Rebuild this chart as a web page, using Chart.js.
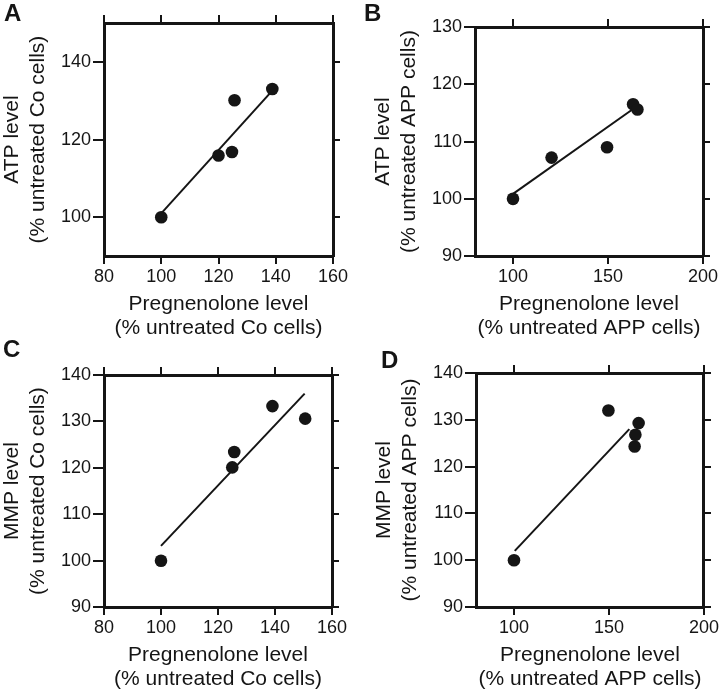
<!DOCTYPE html>
<html>
<head>
<meta charset="utf-8">
<script src="https://cdn.jsdelivr.net/npm/chart.js@4"></script>
<style>
  body { margin: 0; background: #fff; width: 721px; height: 693px; position: relative; overflow: hidden; }
  canvas { position: absolute; }
  .tag { position: absolute; font-family: 'Liberation Sans', Arial, sans-serif; font-weight: bold; font-size: 24px; line-height: 1; color: #151515; }
</style>
</head>
<body>
<canvas id="chartA" width="360" height="345" style="left:0;top:0"></canvas>
<canvas id="chartB" width="361" height="345" style="left:360px;top:0"></canvas>
<canvas id="chartC" width="360" height="348" style="left:0;top:345px"></canvas>
<canvas id="chartD" width="361" height="348" style="left:360px;top:345px"></canvas>
<div class="tag" style="left:4px;top:1px">A</div>
<div class="tag" style="left:364px;top:1px">B</div>
<div class="tag" style="left:3px;top:337px">C</div>
<div class="tag" style="left:381px;top:348px">D</div>
<script>
const ink = '#151515';

// A - ATP vs pregnenolone, Co cells
const pregA = [100, 120, 124.7, 125.6, 138.8];
const atpA = [100, 115.9, 116.8, 130.1, 133.0];
const fitAx = [100, 138.8];
const fitAy = [101.0, 132.6];
const xTicksA = [80, 100, 120, 140, 160];
const yTicksA = [100, 120, 140];

// B - ATP vs pregnenolone, APP cells
const pregB = [100, 120.3, 149.5, 163.2, 165.5];
const atpB = [100, 107.2, 109.0, 116.5, 115.6];
const fitBx = [100.2, 165.8];
const fitBy = [100.9, 116.3];
const xTicksB = [100, 150, 200];
const yTicksB = [90, 100, 110, 120, 130];

// C - MMP vs pregnenolone, Co cells
const pregC = [100, 125.0, 125.7, 139.1, 150.6];
const mmpC = [100, 120.1, 123.4, 133.3, 130.6];
const fitCx = [100, 150.4];
const fitCy = [103.2, 136.0];
const xTicksC = [80, 100, 120, 140, 160];
const yTicksC = [90, 100, 110, 120, 130, 140];

// D - MMP vs pregnenolone, APP cells
const pregD = [100, 149.7, 163.5, 163.9, 165.6];
const mmpD = [100, 132.0, 124.3, 126.8, 129.3];
const fitDx = [100.4, 160.7];
const fitDy = [102.0, 128.0];
const xTicksD = [100, 150, 200];
const yTicksD = [90, 100, 110, 120, 130, 140];

const xTitleCo = ['Pregnenolone level', '(% untreated Co cells)'];
const xTitleApp = ['Pregnenolone level', '(% untreated APP cells)'];

Chart.defaults.font.family = "'Liberation Sans', Arial, sans-serif";
Chart.defaults.color = ink;

function pairs(xs, ys) {
  return xs.map((x, i) => ({ x: x, y: ys[i] }));
}

function panel(id, xs, ys, fitX, fitY, xRange, yRange, xTicks, yTicks, xTitle, yTitle, pad) {
  const useTicks = list => axis => { axis.ticks = list.map(v => ({ value: v })); };
  const frame = { display: true, color: ink, width: 3 };
  const marks = len => ({ drawOnChartArea: false, drawTicks: true, tickLength: len, color: ink, lineWidth: 2 });
  const tickFont = { size: 18 };

  new Chart(document.getElementById(id), {
    type: 'scatter',
    data: {
      datasets: [
        { data: pairs(xs, ys), pointRadius: 6.3, pointHoverRadius: 6.3, backgroundColor: ink, borderWidth: 0 },
        { data: pairs(fitX, fitY), showLine: true, pointRadius: 0, borderColor: ink, borderWidth: 2, fill: false }
      ]
    },
    options: {
      responsive: false,
      animation: false,
      devicePixelRatio: 1,
      layout: { padding: pad },
      plugins: { legend: { display: false }, tooltip: { enabled: false } },
      scales: {
        x: {
          type: 'linear', position: 'bottom', min: xRange[0], max: xRange[1],
          afterBuildTicks: useTicks(xTicks),
          ticks: { font: tickFont, padding: 2, maxRotation: 0, autoSkip: false },
          grid: marks(8), border: frame,
          title: { display: true, text: xTitle, font: { size: 21, lineHeight: 1.15 }, padding: { top: 2, bottom: 2 } }
        },
        x2: {
          type: 'linear', position: 'top', min: xRange[0], max: xRange[1],
          afterBuildTicks: useTicks(xTicks),
          ticks: { display: false }, grid: marks(8), border: frame
        },
        y: {
          type: 'linear', position: 'left', min: yRange[0], max: yRange[1],
          afterBuildTicks: useTicks(yTicks),
          // the layout caps side axes at a quarter of the width; this one needs more room
          afterFit: axis => { axis.width = 104; },
          ticks: { font: tickFont, padding: 2, autoSkip: false },
          grid: marks(11), border: frame,
          title: { display: true, text: yTitle, font: { size: 21, lineHeight: 1.2 }, padding: { top: 0, bottom: 2 } }
        },
        y2: {
          type: 'linear', position: 'right', min: yRange[0], max: yRange[1],
          afterBuildTicks: useTicks(yTicks),
          ticks: { display: false }, grid: marks(7), border: frame
        }
      }
    }
  });
}

panel('chartA', pregA, atpA, fitAx, fitAy, [80, 160], [90, 150], xTicksA, yTicksA,
  xTitleCo, ['ATP level', '(% untreated Co cells)'], { left: 0, top: 15, right: 20, bottom: 3 });
panel('chartB', pregB, atpB, fitBx, fitBy, [80, 200], [90, 130], xTicksB, yTicksB,
  xTitleApp, ['ATP level', '(% untreated APP cells)'], { left: 11, top: 19, right: 11, bottom: 3 });
panel('chartC', pregC, mmpC, fitCx, fitCy, [80, 160], [90, 140], xTicksC, yTicksC,
  xTitleCo, ['MMP level', '(% untreated Co cells)'], { left: 0, top: 22, right: 21, bottom: 0 });
panel('chartD', pregD, mmpD, fitDx, fitDy, [80, 200], [90, 140], xTicksD, yTicksD,
  xTitleApp, ['MMP level', '(% untreated APP cells)'], { left: 12, top: 20, right: 9, bottom: 0 });
</script>
</body>
</html>
